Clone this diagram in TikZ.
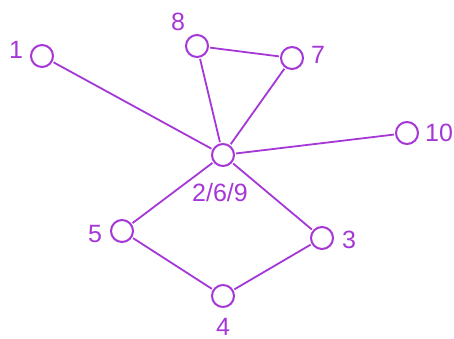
\documentclass[tikz,border=0pt]{standalone}
\usepackage{fontspec}
\setmainfont{Liberation Sans}
\usepackage{tikz}
\usetikzlibrary{positioning}
\definecolor{vtxcolor}{RGB}{165,55,215}
\tikzset{
    vtx/.style  = {draw=vtxcolor, circle, line width=1pt, minimum size=11pt,
                   inner sep=0pt, fill=white},
    lbl/.style  = {text=vtxcolor, font=\fontsize{12.5}{14}\selectfont, inner sep=1pt},
    edge/.style = {draw=vtxcolor, line width=0.9pt, shorten <=0.6pt, shorten >=0.6pt},
}
\begin{document}
\begin{tikzpicture}[x=0.5pt, y=-0.5pt]
\useasboundingbox (0,0) rectangle (454,338);

\node[vtx] (c)  at (223,155) {};
\node[vtx] (v1) at (42,56) {};
\node[vtx] (v8) at (197,46) {};
\node[vtx] (v7) at (292,58) {};
\node[vtx] (v10) at (407,133) {};
\node[vtx] (v5) at (122,231) {};
\node[vtx] (v3) at (322,238) {};
\node[vtx] (v4) at (223,296) {};

\node[lbl] (t1)  at (16,50) {1};
\node[lbl] (t8)  at (178,22) {8};
\node[lbl] (t7)  at (318,55) {7};
\node[lbl] (t10) at (439,133) {10};
\node[lbl] (tc)  at (220,193) {2/6/9};
\node[lbl] (t5)  at (95,234) {5};
\node[lbl] (t3)  at (349,240) {3};
\node[lbl] (t4)  at (223,327) {4};

\draw[edge] (v1) -- (c);
\draw[edge] (v8) -- (c);
\draw[edge] (v7) -- (c);
\draw[edge] (v8) -- (v7);
\draw[edge] (v10) -- (c);
\draw[edge] (c) -- (v5);
\draw[edge] (c) -- (v3);
\draw[edge] (v5) -- (v4);
\draw[edge] (v3) -- (v4);

\end{tikzpicture}
\end{document}
